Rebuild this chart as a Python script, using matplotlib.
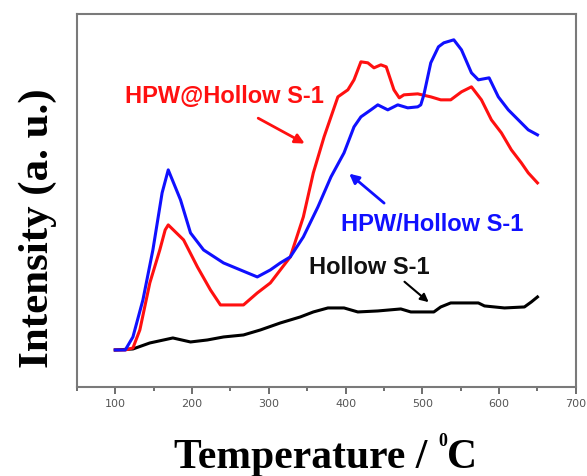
import matplotlib
matplotlib.use("Agg")
import matplotlib.pyplot as plt

# TPD curves (intensity in arbitrary units)
t_blue = [100, 113, 123, 136, 149, 161, 169, 185, 198, 215, 241, 263, 285, 302, 315, 328,
          345, 364, 381, 398, 411, 420, 433, 442, 455, 468, 481, 494, 498, 502, 511, 521,
          528, 541, 551, 564, 573, 587, 599, 612, 625, 638, 650]
i_blue = [37, 37, 50, 87, 137, 194, 217, 187, 154, 137, 124, 117, 110, 117, 124, 130,
          150, 180, 210, 234, 260, 270, 277, 282, 277, 282, 279, 280, 282, 292, 324, 340,
          344, 347, 337, 314, 307, 309, 290, 277, 267, 257, 252]

t_red = [100, 113, 123, 132, 145, 158, 165, 169, 189, 207, 224, 237, 267, 285, 302, 328,
         345, 358, 372, 390, 403, 411, 420, 429, 437, 446, 453, 463, 470, 476, 494, 511,
         524, 537, 551, 564, 577, 590, 603, 616, 629, 638, 650]
i_red = [37, 37, 39, 57, 104, 137, 157, 162, 147, 120, 97, 82, 82, 94, 104, 130,
         170, 214, 250, 290, 297, 307, 325, 324, 319, 322, 320, 297, 289, 292, 293, 290,
         287, 287, 295, 300, 287, 267, 254, 237, 224, 214, 204]

t_black = [100, 123, 145, 175, 198, 220, 241, 267, 289, 315, 341, 358, 377, 398, 416,
           442, 472, 485, 515, 524, 537, 573, 581, 607, 633, 642, 650]
i_black = [37, 38, 44, 49, 45, 47, 50, 52, 57, 64, 70, 75, 79, 79, 75,
           76, 78, 75, 75, 80, 84, 84, 81, 79, 80, 85, 90]

x_ticks = [100, 200, 300, 400, 500, 600, 700]

fig = plt.figure(figsize=(5.87, 4.76), dpi=100)
ax = fig.add_axes([0.131, 0.187, 0.850, 0.784])

ax.plot(t_black, i_black, color="black", lw=2.2)
ax.plot(t_red, i_red, color="#ff1010", lw=2.2)
ax.plot(t_blue, i_blue, color="#1010ff", lw=2.2)

ax.set_xlim(50, 700)
ax.set_ylim(0, 373)
ax.set_xticks(x_ticks)
ax.set_xticks(range(50, 701, 50), minor=True)
ax.set_yticks([])
ax.tick_params(axis="x", which="both", direction="out", colors="#555555",
               labelsize=8, width=1.2)
ax.tick_params(axis="x", which="major", length=5)
ax.tick_params(axis="x", which="minor", length=3)
for s in ax.spines.values():
    s.set_color("#7a7a7a")
    s.set_linewidth(1.5)

# labels on the curves
lab = dict(fontsize=17, fontweight="bold", family="Liberation Sans", va="center")
ax.text(113, 290, "HPW@Hollow S-1", color="#ff1010", **lab)
ax.annotate("", xy=(350, 242), xytext=(283, 270),
            arrowprops=dict(arrowstyle="-|>", color="#ff1010", lw=2, mutation_scale=14))
ax.text(394, 162, "HPW/Hollow S-1", color="#1010ff", **lab)
ax.annotate("", xy=(402, 215), xytext=(453, 182),
            arrowprops=dict(arrowstyle="-|>", color="#1010ff", lw=2, mutation_scale=14))
ax.text(353, 119, "Hollow S-1", color="#111111", **lab)
ax.annotate("", xy=(511, 83), xytext=(474, 107),
            arrowprops=dict(arrowstyle="-|>", color="black", lw=1.5, mutation_scale=12))

# x label built from pieces so the small superscript 0 sits like the original
serif = dict(fontweight="bold", family="Liberation Serif", va="baseline")
y0 = 0.016
t1 = fig.text(0, y0, "Temperature / ", fontsize=30, **serif)
t2 = fig.text(0, y0 + 0.048, "0", fontsize=13, **serif)
t3 = fig.text(0, y0, "C", fontsize=30, **serif)
r = fig.canvas.get_renderer()
W = fig.bbox.width
w1 = t1.get_window_extent(r).width / W
w2 = t2.get_window_extent(r).width / W
w3 = t3.get_window_extent(r).width / W
x0 = 0.555 - (w1 + w2 + w3) / 2
t1.set_x(x0)
t2.set_x(x0 + w1)
t3.set_x(x0 + w1 + w2)

fig.text(0.065, 0.521, "Intensity (a. u.)", ha="center", va="center", rotation=90,
         fontsize=31, fontweight="bold", family="Liberation Serif")

fig.savefig("out.png", dpi=100)
